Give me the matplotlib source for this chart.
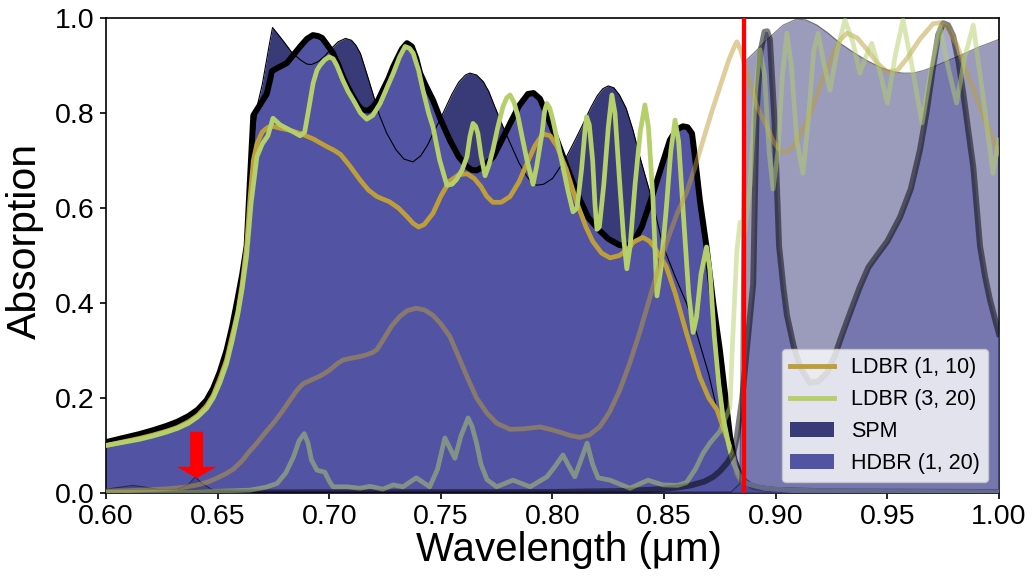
import numpy as np
import matplotlib
matplotlib.use("Agg")
import matplotlib.pyplot as plt
from matplotlib.lines import Line2D
from matplotlib.patches import Patch

plt.rcParams['font.family'] = ['Liberation Sans', 'DejaVu Sans']

# absorption spectra, first structure set (opaque)
hdbr_x = [0.600, 0.607, 0.615, 0.621, 0.627, 0.632, 0.637, 0.641, 0.645, 0.648,
          0.651, 0.654, 0.6565, 0.659, 0.661, 0.663, 0.6645, 0.666, 0.668, 0.672,
          0.6735, 0.6743, 0.6765, 0.681, 0.687, 0.690, 0.6927, 0.695, 0.6968, 0.699,
          0.7017, 0.704, 0.7062, 0.7085, 0.7107, 0.713, 0.715, 0.7175, 0.7196, 0.722,
          0.724, 0.7265, 0.7286, 0.731, 0.7326, 0.7348, 0.737, 0.739, 0.7407, 0.743,
          0.7465, 0.750, 0.754, 0.758, 0.7617, 0.764, 0.766, 0.769, 0.7735, 0.777,
          0.781, 0.785, 0.789, 0.7915, 0.7944, 0.798, 0.802, 0.807, 0.8123, 0.816,
          0.821, 0.825, 0.830, 0.833, 0.836, 0.840, 0.845, 0.849, 0.8526, 0.8555,
          0.8585, 0.8605, 0.8625, 0.864, 0.866, 0.869, 0.872, 0.875, 0.8775, 0.8795,
          0.8815, 0.8835, 0.886, 0.890, 0.900, 0.930, 1.000]
hdbr_y = [0.107, 0.115, 0.124, 0.132, 0.141, 0.150, 0.162, 0.175, 0.195, 0.220,
          0.255, 0.300, 0.350, 0.410, 0.460, 0.520, 0.660, 0.795, 0.810, 0.840,
          0.870, 0.888, 0.894, 0.905, 0.940, 0.956, 0.964, 0.962, 0.958, 0.944,
          0.926, 0.902, 0.876, 0.853, 0.834, 0.816, 0.806, 0.805, 0.813, 0.828,
          0.848, 0.872, 0.897, 0.920, 0.935, 0.947, 0.940, 0.915, 0.884, 0.860,
          0.827, 0.785, 0.743, 0.708, 0.687, 0.680, 0.679, 0.687, 0.708, 0.740,
          0.778, 0.815, 0.840, 0.842, 0.830, 0.790, 0.743, 0.680, 0.617, 0.580,
          0.553, 0.535, 0.522, 0.520, 0.526, 0.560, 0.630, 0.690, 0.743, 0.765,
          0.772, 0.770, 0.757, 0.700, 0.617, 0.518, 0.400, 0.300, 0.200, 0.120,
          0.070, 0.045, 0.025, 0.012, 0.006, 0.003, 0.002]

spm_x = [0.600, 0.615, 0.627, 0.637, 0.645, 0.651, 0.6565, 0.661, 0.663, 0.665,
         0.668, 0.670, 0.6715, 0.673, 0.6746, 0.677, 0.680, 0.683, 0.687, 0.690,
         0.692, 0.695, 0.698, 0.701, 0.704, 0.7073, 0.710, 0.712, 0.714, 0.717,
         0.7196, 0.7225, 0.7258, 0.730, 0.7335, 0.7375, 0.741, 0.744, 0.7465, 0.749,
         0.752, 0.755, 0.758, 0.761, 0.763, 0.766, 0.769, 0.7715, 0.774, 0.7775,
         0.781, 0.785, 0.7886, 0.791, 0.793, 0.796, 0.800, 0.803, 0.8065, 0.810,
         0.8135, 0.817, 0.820, 0.8225, 0.825, 0.8275, 0.830, 0.833, 0.836, 0.839,
         0.842, 0.845, 0.8495, 0.855, 0.860, 0.865, 0.870, 0.8737, 0.877, 0.880,
         0.883, 0.886, 0.890, 0.900, 1.000]
spm_y = [0.100, 0.118, 0.135, 0.155, 0.188, 0.245, 0.340, 0.450, 0.510, 0.700,
         0.820, 0.860, 0.900, 0.940, 0.980, 0.966, 0.948, 0.929, 0.912, 0.903,
         0.902, 0.908, 0.920, 0.936, 0.950, 0.957, 0.953, 0.942, 0.925, 0.880,
         0.840, 0.795, 0.757, 0.722, 0.703, 0.697, 0.710, 0.732, 0.757, 0.780,
         0.810, 0.840, 0.865, 0.880, 0.884, 0.880, 0.866, 0.845, 0.815, 0.775,
         0.737, 0.695, 0.666, 0.652, 0.648, 0.650, 0.662, 0.683, 0.710, 0.742,
         0.775, 0.810, 0.836, 0.851, 0.857, 0.853, 0.838, 0.810, 0.765, 0.710,
         0.660, 0.610, 0.520, 0.455, 0.400, 0.330, 0.250, 0.175, 0.120, 0.075,
         0.045, 0.025, 0.012, 0.005, 0.002]

ldbr1_x = [0.600, 0.607, 0.615, 0.621, 0.627, 0.632, 0.637, 0.641, 0.645, 0.648,
           0.651, 0.654, 0.6565, 0.659, 0.661, 0.663, 0.6645, 0.666, 0.6676, 0.670,
           0.6725, 0.6748, 0.678, 0.682, 0.687, 0.693, 0.699, 0.702, 0.705, 0.709,
           0.7138, 0.7175, 0.7214, 0.727, 0.731, 0.7348, 0.7375, 0.740, 0.7425, 0.7465,
           0.750, 0.754, 0.758, 0.7617, 0.765, 0.768, 0.7705, 0.7733, 0.777, 0.781,
           0.785, 0.7886, 0.792, 0.7957, 0.799, 0.802, 0.8063, 0.811, 0.815, 0.818,
           0.822, 0.8258, 0.830, 0.8334, 0.837, 0.8405, 0.8435, 0.846, 0.851, 0.855,
           0.860, 0.866, 0.870, 0.8737, 0.877, 0.881, 0.8826, 0.8845, 0.888, 0.895,
           0.910, 1.000]
ldbr1_y = [0.100, 0.107, 0.115, 0.122, 0.130, 0.138, 0.150, 0.163, 0.183, 0.205,
           0.240, 0.280, 0.330, 0.380, 0.440, 0.520, 0.620, 0.700, 0.735, 0.760,
           0.770, 0.772, 0.768, 0.764, 0.757, 0.745, 0.729, 0.722, 0.713, 0.690,
           0.659, 0.638, 0.624, 0.613, 0.600, 0.582, 0.568, 0.560, 0.565, 0.589,
           0.625, 0.657, 0.670, 0.672, 0.662, 0.645, 0.625, 0.612, 0.612, 0.624,
           0.655, 0.694, 0.730, 0.756, 0.752, 0.730, 0.680, 0.610, 0.560, 0.530,
           0.505, 0.495, 0.500, 0.512, 0.530, 0.538, 0.530, 0.515, 0.476, 0.420,
           0.337, 0.244, 0.200, 0.175, 0.130, 0.076, 0.040, 0.025, 0.018, 0.010,
           0.004, 0.002]

ldbr3_x = [0.600, 0.607, 0.615, 0.621, 0.627, 0.632, 0.637, 0.641, 0.645, 0.648,
           0.651, 0.654, 0.6565, 0.659, 0.661, 0.663, 0.665, 0.6676, 0.670, 0.6725,
           0.6748, 0.678, 0.684, 0.687, 0.689, 0.6905, 0.6928, 0.6945, 0.6958, 0.698,
           0.700, 0.7018, 0.7034, 0.706, 0.7085, 0.7108, 0.714, 0.7168, 0.7195, 0.7228,
           0.726, 0.7287, 0.7315, 0.734, 0.736, 0.7376, 0.740, 0.742, 0.7445, 0.7465,
           0.7495, 0.7527, 0.755, 0.757, 0.7595, 0.7617, 0.763, 0.7644, 0.7656, 0.7666,
           0.768, 0.7698, 0.7715, 0.7733, 0.7755, 0.7778, 0.7795, 0.781, 0.7828, 0.7846,
           0.7866, 0.7886, 0.7913, 0.793, 0.7953, 0.7965, 0.7975, 0.7988, 0.8002, 0.8025,
           0.8047, 0.807, 0.8092, 0.811, 0.813, 0.8145, 0.8153, 0.8165, 0.818, 0.819,
           0.8199, 0.821, 0.823, 0.825, 0.8266, 0.828, 0.830, 0.8318, 0.8333, 0.8348,
           0.837, 0.8393, 0.8414, 0.843, 0.845, 0.8468, 0.8485, 0.851, 0.853, 0.8549,
           0.8565, 0.859, 0.861, 0.863, 0.8645, 0.8665, 0.869, 0.8705, 0.8725, 0.8745,
           0.8764, 0.879, 0.881, 0.884, 0.887, 0.895, 0.906, 0.950, 1.000]
ldbr3_y = [0.100, 0.106, 0.113, 0.120, 0.128, 0.136, 0.147, 0.160, 0.178, 0.200,
           0.232, 0.272, 0.320, 0.375, 0.430, 0.500, 0.610, 0.708, 0.735, 0.752,
           0.789, 0.775, 0.760, 0.752, 0.760, 0.800, 0.863, 0.890, 0.900, 0.912,
           0.918, 0.914, 0.900, 0.870, 0.845, 0.827, 0.800, 0.787, 0.795, 0.820,
           0.855, 0.884, 0.918, 0.940, 0.936, 0.926, 0.890, 0.848, 0.800, 0.770,
           0.700, 0.648, 0.650, 0.660, 0.680, 0.708, 0.750, 0.778, 0.772, 0.757,
           0.710, 0.668, 0.690, 0.722, 0.770, 0.813, 0.832, 0.838, 0.822, 0.792,
           0.745, 0.700, 0.650, 0.690, 0.757, 0.805, 0.820, 0.810, 0.785, 0.735,
           0.686, 0.635, 0.592, 0.600, 0.680, 0.760, 0.792, 0.775, 0.700, 0.610,
           0.555, 0.560, 0.650, 0.770, 0.838, 0.800, 0.660, 0.540, 0.472, 0.520,
           0.650, 0.760, 0.817, 0.770, 0.620, 0.415, 0.470, 0.600, 0.720, 0.785,
           0.740, 0.560, 0.420, 0.338, 0.370, 0.460, 0.518, 0.470, 0.330, 0.230,
           0.160, 0.100, 0.063, 0.034, 0.020, 0.010, 0.006, 0.003, 0.002]

# second structure set (drawn faded)
hdbr2_x = [0.600, 0.800, 0.830, 0.845, 0.855, 0.862, 0.868, 0.872, 0.875, 0.878,
           0.881, 0.8826, 0.885, 0.887, 0.8899, 0.8914, 0.8932, 0.895, 0.8962, 0.8974,
           0.8995, 0.9015, 0.9035, 0.905, 0.908, 0.911, 0.9153, 0.919, 0.923, 0.9265,
           0.930, 0.934, 0.9377, 0.9415, 0.9453, 0.950, 0.9557, 0.9605, 0.9646, 0.9675,
           0.9705, 0.9728, 0.975, 0.9772, 0.9795, 0.9818, 0.984, 0.9862, 0.9885, 0.9915,
           0.9938, 0.996, 0.998, 1.000]
hdbr2_y = [0.001, 0.002, 0.004, 0.007, 0.011, 0.016, 0.024, 0.034, 0.046, 0.062,
           0.084, 0.118, 0.200, 0.300, 0.440, 0.800, 0.930, 0.971, 0.972, 0.954,
           0.780, 0.520, 0.430, 0.375, 0.310, 0.265, 0.232, 0.235, 0.253, 0.290,
           0.337, 0.388, 0.434, 0.475, 0.500, 0.530, 0.581, 0.640, 0.722, 0.800,
           0.897, 0.965, 0.989, 0.985, 0.962, 0.910, 0.842, 0.765, 0.686, 0.520,
           0.455, 0.406, 0.370, 0.335]

spm2_x = [0.600, 0.606, 0.612, 0.618, 0.625, 0.632, 0.637, 0.640, 0.643, 0.648,
          0.660, 0.880, 0.884, 0.8855, 0.887, 0.891, 0.896, 0.9033, 0.9095, 0.9135,
          0.9185, 0.9235, 0.9288, 0.935, 0.941, 0.947, 0.9525, 0.957, 0.9615, 0.966,
          0.9705, 0.975, 0.9795, 0.985, 0.990, 0.995, 1.000]
spm2_y = [0.008, 0.012, 0.016, 0.012, 0.006, 0.008, 0.018, 0.034, 0.020, 0.006,
          0.002, 0.002, 0.020, 0.910, 0.912, 0.930, 0.954, 0.985, 0.998, 0.996,
          0.985, 0.968, 0.947, 0.927, 0.910, 0.896, 0.887, 0.884, 0.884, 0.889,
          0.897, 0.906, 0.915, 0.926, 0.937, 0.946, 0.955]

ldbr1b_x = [0.600, 0.610, 0.620, 0.628, 0.635, 0.640, 0.6435, 0.6466, 0.650, 0.6535,
            0.657, 0.661, 0.664, 0.6676, 0.671, 0.675, 0.679, 0.6825, 0.6855, 0.6883,
            0.692, 0.6958, 0.700, 0.7035, 0.7062, 0.710, 0.7135, 0.7168, 0.7195, 0.7214,
            0.7245, 0.728, 0.7317, 0.735, 0.739, 0.7428, 0.7465, 0.750, 0.754, 0.758,
            0.7617, 0.766, 0.7707, 0.775, 0.781, 0.787, 0.7944, 0.799, 0.8034, 0.808,
            0.8123, 0.8165, 0.8213, 0.8255, 0.830, 0.8345, 0.839, 0.842, 0.845, 0.8485,
            0.8526, 0.856, 0.860, 0.8638, 0.8675, 0.8712, 0.875, 0.879, 0.8815, 0.8826,
            0.8845, 0.887, 0.8915, 0.896, 0.899, 0.902, 0.905, 0.9078, 0.9115, 0.9155,
            0.9205, 0.9258, 0.929, 0.932, 0.9365, 0.941, 0.9455, 0.950, 0.9545, 0.9588,
            0.9645, 0.9705, 0.9737, 0.9767, 0.981, 0.9857, 0.9925, 1.000]
ldbr1b_y = [0.004, 0.005, 0.007, 0.009, 0.012, 0.016, 0.020, 0.025, 0.032, 0.040,
            0.050, 0.068, 0.086, 0.105, 0.125, 0.147, 0.172, 0.196, 0.216, 0.230,
            0.238, 0.246, 0.258, 0.272, 0.280, 0.284, 0.287, 0.291, 0.296, 0.302,
            0.325, 0.352, 0.372, 0.384, 0.389, 0.385, 0.374, 0.356, 0.330, 0.286,
            0.245, 0.200, 0.168, 0.147, 0.134, 0.135, 0.139, 0.134, 0.128, 0.121,
            0.117, 0.122, 0.140, 0.170, 0.215, 0.272, 0.337, 0.385, 0.434, 0.490,
            0.547, 0.590, 0.632, 0.685, 0.743, 0.800, 0.855, 0.912, 0.940, 0.950,
            0.930, 0.884, 0.815, 0.771, 0.740, 0.720, 0.718, 0.729, 0.760, 0.800,
            0.865, 0.926, 0.955, 0.968, 0.958, 0.933, 0.905, 0.886, 0.890, 0.915,
            0.955, 0.988, 0.990, 0.981, 0.945, 0.884, 0.800, 0.715]

ldbr3b_x = [0.600, 0.640, 0.6645, 0.6715, 0.6766, 0.6805, 0.684, 0.6865, 0.6888, 0.6905,
            0.692, 0.6945, 0.698, 0.700, 0.7017, 0.708, 0.7138, 0.7183, 0.724, 0.7287,
            0.733, 0.739, 0.745, 0.7485, 0.7518, 0.754, 0.7563, 0.759, 0.7622, 0.764,
            0.766, 0.768, 0.7707, 0.775, 0.7823, 0.790, 0.7975, 0.801, 0.8047, 0.8075,
            0.810, 0.8128, 0.8155, 0.818, 0.8204, 0.8258, 0.8347, 0.8428, 0.8495, 0.856,
            0.860, 0.864, 0.8675, 0.8705, 0.875, 0.8795, 0.8805, 0.8826, 0.884, 0.886,
            0.8885, 0.891, 0.893, 0.895, 0.897, 0.8988, 0.901, 0.903, 0.905, 0.907,
            0.9095, 0.9122, 0.9145, 0.917, 0.919, 0.9215, 0.9243, 0.9275, 0.931, 0.9345,
            0.9377, 0.9405, 0.943, 0.9465, 0.950, 0.9535, 0.957, 0.961, 0.9655, 0.9695,
            0.9736, 0.977, 0.981, 0.9848, 0.9885, 0.993, 0.9973, 1.000]
ldbr3b_y = [0.002, 0.002, 0.006, 0.012, 0.020, 0.042, 0.076, 0.110, 0.125, 0.105,
            0.070, 0.048, 0.044, 0.025, 0.013, 0.013, 0.010, 0.014, 0.008, 0.017,
            0.013, 0.032, 0.013, 0.050, 0.116, 0.095, 0.073, 0.120, 0.158, 0.140,
            0.105, 0.060, 0.028, 0.013, 0.027, 0.013, 0.034, 0.055, 0.080, 0.055,
            0.034, 0.070, 0.105, 0.060, 0.032, 0.027, 0.010, 0.027, 0.017, 0.016,
            0.022, 0.050, 0.084, 0.105, 0.130, 0.180, 0.300, 0.510, 0.570, 0.547,
            0.650, 0.850, 0.933, 0.880, 0.720, 0.640, 0.720, 0.880, 0.968, 0.900,
            0.740, 0.673, 0.780, 0.930, 0.968, 0.905, 0.848, 0.930, 0.996, 0.950,
            0.884, 0.920, 0.947, 0.890, 0.821, 0.920, 0.996, 0.900, 0.779, 0.890,
            0.981, 0.900, 0.821, 0.920, 0.985, 0.830, 0.673, 0.743]

band_edge = 0.8858
marker_x = 0.6406

c_spm = '#393b79'
c_hdbr = '#5254a3'
c_ldbr1 = '#bd9e39'
c_ldbr3 = '#b5cf6b'

fig = plt.figure(figsize=(10.32, 5.77), dpi=100)
ax = fig.add_axes([0.1027, 0.1456, 0.8653, 0.8232])

ax.fill_between(spm_x, spm_y, 0, color=c_spm, lw=0, zorder=1)
ax.fill_between(hdbr_x, hdbr_y, 0, color=c_hdbr, lw=0, zorder=2)
ax.plot(spm_x, spm_y, color='black', lw=0.8, zorder=3)
ax.plot(hdbr_x, hdbr_y, color='black', lw=4.3, zorder=4)
ax.plot(ldbr1_x, ldbr1_y, color=c_ldbr1, lw=3.4, zorder=5)
ax.plot(ldbr3_x, ldbr3_y, color=c_ldbr3, lw=3.4, zorder=5)

ax.fill_between(spm2_x, spm2_y, 0, color=c_spm, alpha=0.5, lw=0, zorder=6)
ax.fill_between(hdbr2_x, hdbr2_y, 0, color=c_hdbr, alpha=0.5, lw=0, zorder=6)
ax.plot(spm2_x, spm2_y, color='black', lw=0.8, alpha=0.5, zorder=7)
ax.plot(hdbr2_x, hdbr2_y, color='black', lw=4.3, alpha=0.5, zorder=7)
ax.plot(ldbr1b_x, ldbr1b_y, color=c_ldbr1, lw=3.4, alpha=0.5, zorder=8)
ax.plot(ldbr3b_x, ldbr3b_y, color=c_ldbr3, lw=3.4, alpha=0.5, zorder=8)

ax.axvline(band_edge, color='red', lw=3.1, zorder=10)
ax.arrow(marker_x, 0.129, 0, -0.098, width=0.0058, head_width=0.0175,
         head_length=0.024, length_includes_head=True, color='red', lw=0, zorder=10)

ax.set_xlim(0.6, 1.0)
ax.set_ylim(0.0, 1.0)
ax.set_xticks(np.arange(0.60, 1.001, 0.05))
ax.set_xticklabels(['0.60', '0.65', '0.70', '0.75', '0.80', '0.85', '0.90', '0.95', '1.00'])
ax.set_yticks(np.arange(0.0, 1.001, 0.2))
ax.set_yticklabels(['0.0', '0.2', '0.4', '0.6', '0.8', '1.0'])
ax.tick_params(direction='out', length=4.5, width=1.2, labelsize=20.5)
for sp in ax.spines.values():
    sp.set_linewidth(1.2)
ax.set_xlabel('Wavelength (μm)', fontsize=29, labelpad=1)
ax.set_ylabel('Absorption', fontsize=29.5, labelpad=8)
ax.xaxis.label.set_x(0.518)
ax.yaxis.label.set_y(0.53)

handles = [Line2D([0], [0], color=c_ldbr1, lw=3.5, label='LDBR (1, 10)'),
           Line2D([0], [0], color=c_ldbr3, lw=3.5, label='LDBR (3, 20)'),
           Patch(facecolor=c_spm, label='SPM'),
           Patch(facecolor=c_hdbr, label='HDBR (1, 20)')]
leg = ax.legend(handles=handles, loc='lower right', fontsize=15.5)
leg.set_zorder(20)

fig.savefig('out.png', dpi=100)
